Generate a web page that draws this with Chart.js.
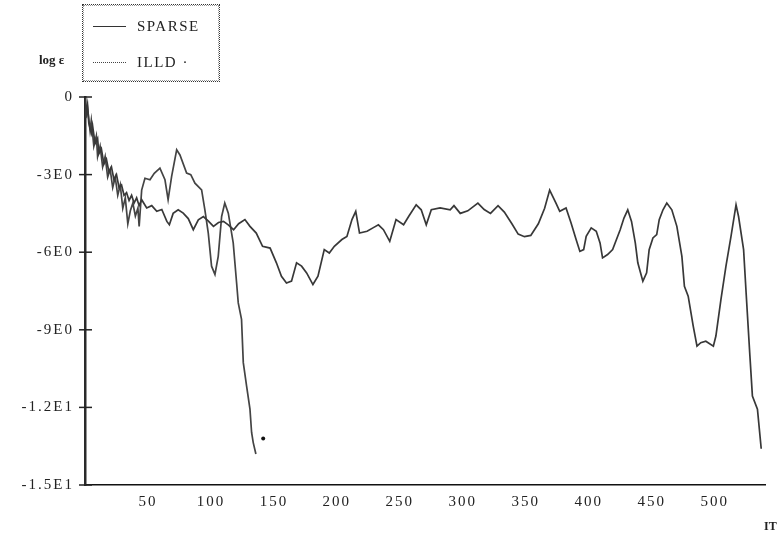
<!DOCTYPE html>
<html>
<head>
<meta charset="utf-8">
<script src="https://cdn.jsdelivr.net/npm/chart.js@4.4.1/dist/chart.umd.min.js"></script>
<style>
  html, body { margin: 0; padding: 0; background: #fff; }
  #wrap { position: relative; width: 780px; height: 540px; }
  canvas { position: absolute; left: 0; top: 0; }
  .txt { position: absolute; font-family: 'Liberation Serif', 'Times New Roman', serif; color: #222; white-space: nowrap; }
  #legend { position: absolute; left: 82px; top: 4px; width: 136px; height: 76px; border: 1px dotted #333; outline: 1px dotted #999; outline-offset: -2px; }
  .lline { position: absolute; left: 10px; width: 33px; height: 0; }
  .ltext { position: absolute; left: 54px; font-family: 'Liberation Serif', 'Times New Roman', serif; font-size: 15px; letter-spacing: 1.5px; color: #222; line-height: 16px; }
</style>
</head>
<body>
<div id="wrap">
  <canvas id="c" width="780" height="540"></canvas>
  <div id="legend">
    <div class="lline" style="top:21px;border-top:1px solid #333;"></div>
    <div class="ltext" style="top:13px;">SPARSE</div>
    <div class="lline" style="top:57px;border-top:1px dotted #444;"></div>
    <div class="ltext" style="top:49px;">ILLD ·</div>
  </div>
  <div class="txt" style="left:39px;top:52px;font-size:13px;font-weight:bold;">log ε</div>
  <div class="txt" style="left:764px;top:519px;font-size:12px;font-weight:bold;">IT</div>
</div>
<script>
// ---- data ----
const sparseIT = [0,1,2,3,5,6,8,10,11,13,15,17,19,21,23,25,27,29,31,33,35,37,39,41,43,45,49,53,57,61,65,67,70,74,78,82,86,90,94,98,102,106,110,114,118,122,127,131,136,141,147,152,156,160,164,168,172,176,181,185,190,194,198,204,208,212,215,218,224,229,233,237,242,247,253,257,263,267,271,275,282,290,293,298,304,312,317,322,328,333,339,344,349,354,360,365,369,374,377,382,386,390,393,396,398,402,406,409,411,415,419,425,428,431,434,437,439,443,446,448,451,454,456,459,462,466,470,474,476,479,483,486,489,493,499,501,505,509,513,517,519,523,525,528,530,534,537];
const sparseVal = [0,-0.6,-0.3,-1.0,-1.4,-1.1,-1.8,-1.6,-2.2,-2.0,-2.6,-2.4,-2.9,-2.7,-3.2,-3.0,-3.5,-3.4,-3.8,-3.7,-4.0,-3.8,-4.1,-3.9,-4.2,-3.97,-4.29,-4.2,-4.42,-4.35,-4.81,-4.94,-4.5,-4.36,-4.49,-4.7,-5.13,-4.75,-4.62,-4.8,-5.0,-4.85,-4.81,-4.95,-5.13,-4.9,-4.74,-5.0,-5.26,-5.77,-5.84,-6.41,-6.93,-7.19,-7.12,-6.41,-6.54,-6.8,-7.25,-6.93,-5.9,-6.03,-5.77,-5.51,-5.39,-4.74,-4.42,-5.26,-5.19,-5.05,-4.94,-5.13,-5.58,-4.74,-4.94,-4.62,-4.17,-4.36,-4.94,-4.36,-4.29,-4.36,-4.2,-4.5,-4.4,-4.1,-4.35,-4.5,-4.2,-4.45,-4.9,-5.3,-5.4,-5.35,-4.9,-4.3,-3.6,-4.1,-4.42,-4.29,-4.87,-5.51,-5.97,-5.9,-5.39,-5.06,-5.19,-5.64,-6.22,-6.09,-5.9,-5.13,-4.68,-4.36,-4.81,-5.64,-6.41,-7.12,-6.8,-5.9,-5.45,-5.32,-4.74,-4.36,-4.1,-4.36,-5.0,-6.16,-7.32,-7.7,-8.86,-9.63,-9.5,-9.44,-9.63,-9.24,-7.83,-6.54,-5.39,-4.17,-4.62,-5.9,-7.57,-10.0,-11.56,-12.07,-13.6];
const illdIT = [0,1,2,4,5,7,9,10,12,14,16,18,20,22,24,26,28,30,32,34,36,38,40,42,43,45,47.6,51.6,55,59.5,63.5,66,68.8,72.8,75.4,80.7,84,87.3,92.6,95.2,97.9,100.5,103.2,105.8,108.5,111,113.8,117.7,120.4,121.7,124.3,125.7,128.3,131,132.3,133.6,135.7];
const illdVal = [0,-0.8,-0.4,-1.3,-0.9,-1.9,-1.5,-2.3,-1.9,-2.7,-2.3,-3.1,-2.8,-3.5,-3.1,-3.8,-3.4,-4.3,-3.9,-4.9,-4.4,-4.1,-4.6,-4.3,-5.0,-3.6,-3.14,-3.2,-2.95,-2.75,-3.2,-3.97,-3.07,-2.04,-2.24,-2.94,-3.0,-3.33,-3.59,-4.36,-5.26,-6.54,-6.86,-6.16,-4.62,-4.1,-4.49,-5.64,-7.19,-7.96,-8.6,-10.27,-11.17,-12.07,-12.97,-13.36,-13.8];
const markIT = [141.5];
const markVal = [-13.2];
const xTicks = [50,100,150,200,250,300,350,400,450,500];
const xTickLabels = ['50','100','150','200','250','300','350','400','450','500'];
const yTicks = [0,-3,-6,-9,-12,-15];
const yTickLabels = ['0','-3E0','-6E0','-9E0','-1.2E1','-1.5E1'];

const toPts = (xs, ys) => xs.map((x, i) => ({x: x, y: ys[i]}));
const FONT = "'Liberation Serif', 'Times New Roman', serif";

const spacingPlugin = {
  id: 'spacing',
  beforeLayout(chart) { try { chart.ctx.letterSpacing = '2px'; } catch (e) {} },
  beforeDraw(chart) { try { chart.ctx.letterSpacing = '2px'; } catch (e) {} }
};
const yTickMarks = {
  id: 'yTickMarks',
  afterDraw(chart) {
    const ctx = chart.ctx, ys = chart.scales.y, a = chart.chartArea;
    ctx.save();
    ctx.strokeStyle = '#222';
    ctx.lineWidth = 1.5;
    yTicks.forEach(v => {
      const p = ys.getPixelForValue(v);
      ctx.beginPath();
      ctx.moveTo(a.left - 6, p);
      ctx.lineTo(a.left + 7, p);
      ctx.stroke();
    });
    ctx.restore();
  }
};

new Chart(document.getElementById('c'), {
  type: 'line',
  data: {
    datasets: [
      { label: 'SPARSE', data: toPts(sparseIT, sparseVal), borderColor: '#383838', borderWidth: 1.7, pointRadius: 0, tension: 0, fill: false },
      { label: 'ILLD', data: toPts(illdIT, illdVal), borderColor: '#444', borderWidth: 1.7, pointRadius: 0, tension: 0, fill: false },
      { label: 'mark', data: toPts(markIT, markVal), showLine: false, pointRadius: 2, pointBackgroundColor: '#111', pointBorderColor: '#111', borderWidth: 0 }
    ]
  },
  options: {
    responsive: false,
    animation: false,
    parsing: false,
    layout: { padding: { top: 97, right: 15, left: 0, bottom: 0 } },
    plugins: { legend: { display: false }, tooltip: { enabled: false } },
    scales: {
      x: {
        type: 'linear', min: 0, max: 540,
        afterFit(s) { s.height = 55; },
        afterBuildTicks(s) { s.ticks = xTicks.map(v => ({value: v})); },
        grid: { display: false, drawTicks: false },
        border: { display: true, color: '#111', width: 1.5 },
        ticks: {
          padding: 8, maxRotation: 0, autoSkip: false,
          color: '#222', font: { family: FONT, size: 15 },
          callback: (v) => { const i = xTicks.indexOf(v); return i >= 0 ? xTickLabels[i] : ''; }
        }
      },
      y: {
        type: 'linear', min: -15, max: 0,
        afterFit(s) { s.width = 85; },
        afterBuildTicks(s) { s.ticks = yTicks.map(v => ({value: v})); },
        grid: { display: false, drawTicks: false },
        border: { display: true, color: '#2a2a2a', width: 2.5 },
        ticks: {
          padding: 11, autoSkip: false,
          color: '#222', font: { family: FONT, size: 15 },
          callback: (v) => { const i = yTicks.indexOf(v); return i >= 0 ? yTickLabels[i] : ''; }
        }
      }
    }
  },
  plugins: [spacingPlugin, yTickMarks]
});
</script>
</body>
</html>
